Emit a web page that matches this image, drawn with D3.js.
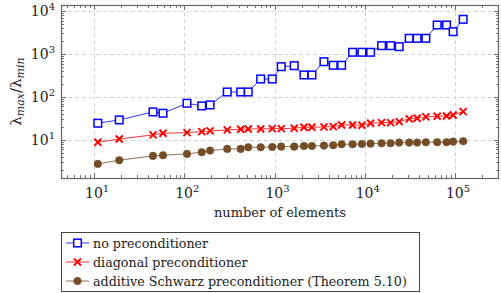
<!DOCTYPE html>
<html>
<head>
<meta charset="utf-8">
<script src="https://cdn.jsdelivr.net/npm/d3@7"></script>
<style>
  body { margin: 0; background: #fff; }
</style>
</head>
<body>
<div id="chart"></div>
<script>
// number of elements (shared by all three series)
var elements = [11, 19, 45, 58, 107, 156, 193, 299, 421, 511, 702, 943, 1186, 1652, 2117, 2594,
    3524, 4467, 5534, 7324, 9290, 11590, 15350, 19320, 24050, 31040, 38020, 47500, 63390, 80530, 95280, 123000];

var noPrec = [24.5, 29.2, 44.8, 41.8, 71.3, 61.8, 65.2, 130.6, 130.6, 130.6, 262, 262, 507, 534, 325, 325,
    662, 546, 546, 1096, 1096, 1096, 1560, 1560, 1479, 2317, 2317, 2317, 4722, 4722, 3303, 6412];

var diagPrec = [8.85, 10.5, 13.1, 14.3, 14.8, 15.6, 16.2, 17.1, 17.7, 18.0, 18.0, 18.3, 18.3, 18.7, 19.7, 19.7,
    20.1, 20.4, 22.3, 22.3, 22.0, 24.4, 25.3, 25.3, 26.6, 31, 32, 34.3, 35.6, 36.1, 38.1, 45.5];

var schwarzPrec = [2.77, 3.37, 4.25, 4.41, 4.73, 5.18, 5.64, 6.18, 6.18, 6.76, 6.76, 6.87, 6.98, 6.98, 7.25, 7.25,
    7.37, 7.53, 7.94, 7.94, 8.07, 8.20, 8.38, 8.38, 8.66, 8.66, 8.66, 8.85, 8.85, 8.85, 9.13, 9.33];

var seriesNames = ["no preconditioner", "diagonal preconditioner", "additive Schwarz preconditioner (Theorem 5.10)"];
var xTickValues = [1e1, 1e2, 1e3, 1e4, 1e5];
var yTickValues = [1e1, 1e2, 1e3, 1e4];

var width = 501, height = 293
  , margin = {top: 5, right: 2, bottom: 115, left: 61}
  , fontSize = 14
  , serif = "DejaVu Serif"
  ;

var svg = d3.select("#chart").append("svg")
    .attr("width", width)
    .attr("height", height)
    .style("font-family", serif);

var xScale = d3.scaleLog()
    .domain([4.3, 3.07e5])
    .range([margin.left, width - margin.right]);

var yScale = d3.scaleLog()
    .domain([1.3, 1.38e4])
    .range([height - margin.bottom, margin.top]);

var x0 = xScale.range()[0], x1 = xScale.range()[1]
  , y0 = yScale.range()[0], y1 = yScale.range()[1];

// grid
var grid = svg.append("g")
    .attr("stroke", "#d4d4d4")
    .attr("stroke-width", 1)
    .attr("stroke-dasharray", "4,3");

grid.selectAll(".vgrid").data(xTickValues).enter().append("line")
    .attr("x1", function(d) { return Math.round(xScale(d)) + 0.5; })
    .attr("x2", function(d) { return Math.round(xScale(d)) + 0.5; })
    .attr("y1", y1).attr("y2", y0);

grid.selectAll(".hgrid").data(yTickValues).enter().append("line")
    .attr("y1", function(d) { return Math.round(yScale(d)) + 0.5; })
    .attr("y2", function(d) { return Math.round(yScale(d)) + 0.5; })
    .attr("x1", x0).attr("x2", x1);

// ticks (inside, mirrored)
var ticks = svg.append("g").attr("stroke", "#555").attr("stroke-width", 0.8);

function isMajor(v) { return Math.abs(Math.log10(v) - Math.round(Math.log10(v))) < 1e-6; }

xScale.ticks().forEach(function(v) {
    var len = isMajor(v) ? 5 : 3;
    var px = Math.round(xScale(v)) + 0.5;
    ticks.append("line").attr("x1", px).attr("x2", px).attr("y1", y0).attr("y2", y0 - len);
    ticks.append("line").attr("x1", px).attr("x2", px).attr("y1", y1).attr("y2", y1 + len);
});

yScale.ticks().forEach(function(v) {
    var len = isMajor(v) ? 5 : 3;
    var py = Math.round(yScale(v)) + 0.5;
    ticks.append("line").attr("y1", py).attr("y2", py).attr("x1", x0).attr("x2", x0 + len);
    ticks.append("line").attr("y1", py).attr("y2", py).attr("x1", x1).attr("x2", x1 - len);
});

// frame
svg.append("rect")
    .attr("x", x0 + 0.5).attr("y", y1 + 0.5)
    .attr("width", x1 - x0 - 1).attr("height", y0 - y1)
    .attr("fill", "none")
    .attr("stroke", "#666")
    .attr("stroke-width", 1.2);

// tick labels
function powLabel(sel, v) {
    sel.append("tspan").text("10");
    sel.append("tspan")
        .attr("dy", -6)
        .style("font-size", "10px")
        .text(Math.round(Math.log10(v)));
}

svg.selectAll(".xlab").data(xTickValues).enter().append("text")
    .attr("x", function(d) { return xScale(d) + 3; })
    .attr("y", y0 + 20)
    .attr("text-anchor", "middle")
    .style("font-size", fontSize + "px")
    .attr("fill", "#222")
    .each(function(d) { powLabel(d3.select(this), d); });

svg.selectAll(".ylab").data(yTickValues).enter().append("text")
    .attr("x", x0 - 6)
    .attr("y", function(d) { return yScale(d) + 5; })
    .attr("text-anchor", "end")
    .style("font-size", fontSize + "px")
    .attr("fill", "#222")
    .each(function(d) { powLabel(d3.select(this), d); });

// axis titles
svg.append("text")
    .attr("x", (x0 + x1) / 2)
    .attr("y", y0 + 39)
    .attr("text-anchor", "middle")
    .style("font-size", "13px")
    .attr("fill", "#222")
    .text("number of elements");

var yTitle = svg.append("text")
    .attr("transform", "translate(21," + ((y0 + y1) / 2) + ") rotate(-90)")
    .attr("text-anchor", "middle")
    .style("font-size", "15px")
    .attr("fill", "#222");
yTitle.append("tspan").text("λ");
yTitle.append("tspan").attr("dy", 3).style("font-size", "11px").style("font-style", "italic").text("max");
yTitle.append("tspan").attr("dy", -3).text("/λ");
yTitle.append("tspan").attr("dy", 3).style("font-size", "11px").style("font-style", "italic").text("min");

// series
var series = [
    {name: seriesNames[0], values: noPrec, color: "#0000ff", marker: "square"},
    {name: seriesNames[1], values: diagPrec, color: "#ff0000", marker: "cross"},
    {name: seriesNames[2], values: schwarzPrec, color: "#734d26", marker: "circle"}
];

var line = d3.line()
    .x(function(d) { return xScale(d[0]); })
    .y(function(d) { return yScale(d[1]); });

function drawMarker(g, type, color) {
    if (type === "square") {
        g.append("rect").attr("x", -3.8).attr("y", -3.8).attr("width", 7.6).attr("height", 7.6)
            .attr("fill", "#fff").attr("stroke", color).attr("stroke-width", 1.5);
    } else if (type === "cross") {
        g.append("path").attr("d", "M-3.5,-3.5L3.5,3.5M-3.5,3.5L3.5,-3.5")
            .attr("stroke", color).attr("stroke-width", 1.9).attr("fill", "none");
    } else {
        g.append("circle").attr("r", 3.8).attr("fill", color).attr("stroke", color).attr("stroke-width", 0.5);
    }
}

series.forEach(function(s) {
    var pts = elements.map(function(e, i) { return [e, s.values[i]]; });
    svg.append("path")
        .datum(pts)
        .attr("d", line)
        .attr("fill", "none")
        .attr("stroke", s.color)
        .attr("stroke-width", 0.8);
    svg.selectAll(null).data(pts).enter().append("g")
        .attr("transform", function(d) { return "translate(" + xScale(d[0]) + "," + yScale(d[1]) + ")"; })
        .each(function() { drawMarker(d3.select(this), s.marker, s.color); });
});

// legend
var legend = svg.append("g");
legend.append("rect")
    .attr("x", 61.5).attr("y", 232.5)
    .attr("width", 358).attr("height", 59)
    .attr("fill", "#fff")
    .attr("stroke", "#444")
    .attr("stroke-width", 1);

series.forEach(function(s, i) {
    var ly = 243 + i * 19;
    var row = legend.append("g");
    row.append("line").attr("x1", 66).attr("x2", 89).attr("y1", ly).attr("y2", ly)
        .attr("stroke", s.color).attr("stroke-width", 0.8);
    var m = row.append("g").attr("transform", "translate(77.5," + ly + ")");
    drawMarker(m, s.marker, s.color);
    row.append("text")
        .attr("x", 93).attr("y", ly + 5)
        .style("font-size", "12.7px")
        .attr("fill", "#222")
        .text(s.name);
});
</script>
</body>
</html>
